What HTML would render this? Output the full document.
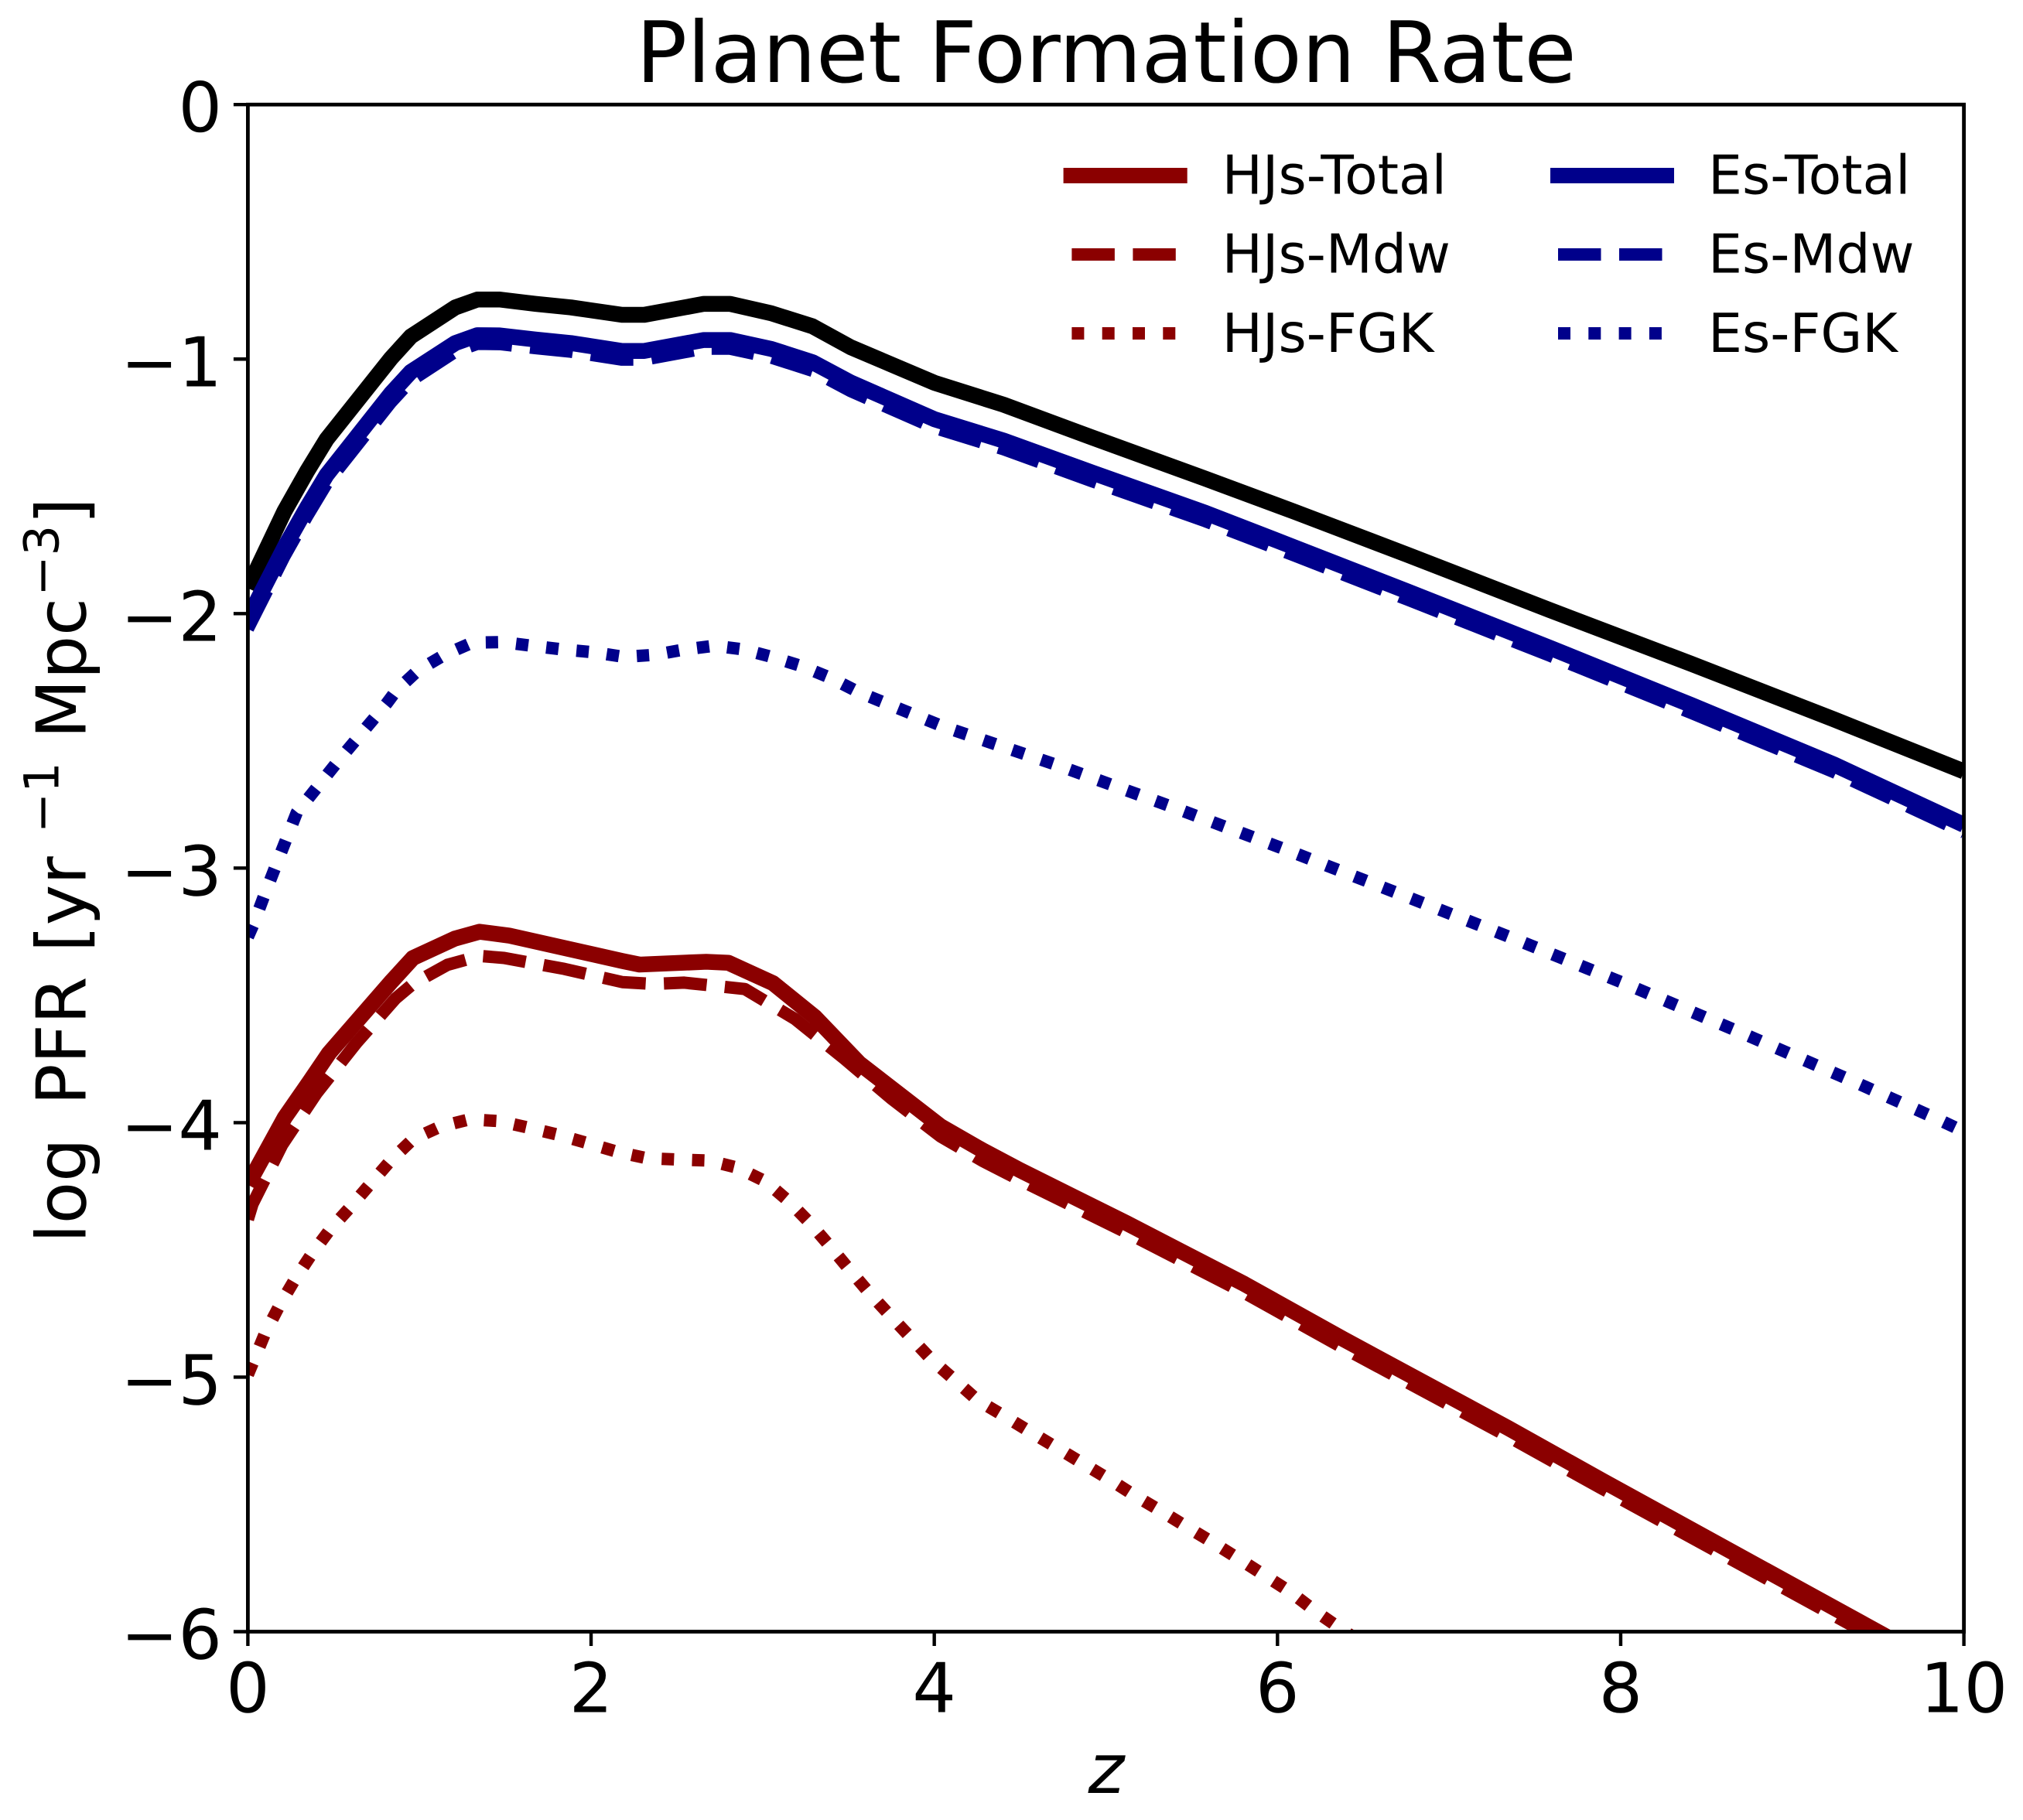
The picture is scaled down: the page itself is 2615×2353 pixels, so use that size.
<!DOCTYPE html>
<html lang="en">
<head>
<meta charset="utf-8">
<title>Planet Formation Rate</title>
<style>
html,body{margin:0;padding:0;background:#fff;}
svg{display:block;}
text{font-family:"DejaVu Sans","Liberation Sans",sans-serif;fill:#000;text-rendering:geometricPrecision;}
</style>
</head>
<body>
<svg id="chart" xmlns="http://www.w3.org/2000/svg" width="2615" height="2353" viewBox="0 0 2615 2353">
  <rect x="0" y="0" width="2615" height="2353" fill="#fff"/>
  <defs><clipPath id="plot-clip"><rect x="320.4" y="135.2" width="2218.2" height="1974.3"/></clipPath></defs>
  <text x="1430" y="106" font-size="109.4" text-anchor="middle">Planet Formation Rate</text>
  <g id="series-layer" clip-path="url(#plot-clip)"></g>
  <g id="axis-layer"></g>
  <g font-size="88.9">
    <text transform="translate(110.7 1607) rotate(-90)">log</text>
    <text transform="translate(110.7 1429) rotate(-90)">PFR</text>
    <text transform="translate(110.7 1231) rotate(-90)">[yr</text>
    <text font-size="62.2" transform="translate(75.7 1077) rotate(-90)">−1</text>
    <text transform="translate(110.7 955) rotate(-90)">Mpc</text>
    <text font-size="62.2" transform="translate(75.7 770.6) rotate(-90)">−3</text>
    <text transform="translate(110.7 678) rotate(-90)">]</text>
  </g>
  <text x="1430" y="2318" font-size="88.9" font-style="italic" text-anchor="middle">z</text>
  <g font-size="69.6">
    <g>
      <line x1="1374.6" x2="1534.7" y1="227" y2="227" stroke="#8b0000" stroke-width="20"/>
      <text x="1579.6" y="250.7">HJs-Total</text>
    </g>
    <g>
      <line x1="1385.4" x2="1519.8" y1="329" y2="329" stroke="#8b0000" stroke-width="16" stroke-dasharray="55.5 23.5"/>
      <text x="1579.6" y="352.7">HJs-Mdw</text>
    </g>
    <g>
      <line x1="1385.4" x2="1519.8" y1="431" y2="431" stroke="#8b0000" stroke-width="16" stroke-dasharray="16 23.3"/>
      <text x="1579.6" y="455">HJs-FGK</text>
    </g>
    <g>
      <line x1="2004" x2="2164" y1="227" y2="227" stroke="#00008b" stroke-width="20"/>
      <text x="2208" y="250.7">Es-Total</text>
    </g>
    <g>
      <line x1="2014" x2="2149" y1="329" y2="329" stroke="#00008b" stroke-width="16" stroke-dasharray="55.5 23.5"/>
      <text x="2208" y="352.7">Es-Mdw</text>
    </g>
    <g>
      <line x1="2014" x2="2149" y1="431" y2="431" stroke="#00008b" stroke-width="16" stroke-dasharray="16 23.3"/>
      <text x="2208" y="455">Es-FGK</text>
    </g>
  </g>
</svg>
<script>
const xTickValues = [0, 2, 4, 6, 8, 10];
const yTickValues = [0, -1, -2, -3, -4, -5, -6];
const xTickLabels = ['0', '2', '4', '6', '8', '10'];
const yTickLabels = ['0', '−1', '−2', '−3', '−4', '−5', '−6'];

const totalZ = [0,0.213,0.343,0.459,0.834,0.95,1.209,1.338,1.468,1.675,1.882,2.18,2.31,2.657,2.81,3.05,3.29,3.513,4.0,4.403,4.92,5.58,6.1,6.758,7.586,8.41,9.24,10];
const allTotal = [-1.9,-1.598,-1.443,-1.315,-0.997,-0.911,-0.797,-0.766,-0.766,-0.783,-0.797,-0.826,-0.826,-0.783,-0.783,-0.82,-0.871,-0.9535,-1.093,-1.179,-1.308,-1.47,-1.6,-1.769,-1.986,-2.197,-2.415,-2.62];
const esTotal = [-2.02,-1.74,-1.585,-1.455,-1.135,-1.05,-0.937,-0.906,-0.907,-0.923,-0.937,-0.968,-0.968,-0.925,-0.925,-0.96,-1.012,-1.092,-1.236,-1.32,-1.446,-1.604,-1.74,-1.913,-2.134,-2.359,-2.592,-2.83];
const esMdw = [-2.06,-1.775,-1.62,-1.49,-1.17,-1.085,-0.971,-0.94,-0.941,-0.957,-0.971,-1.002,-1.002,-0.959,-0.959,-0.994,-1.046,-1.126,-1.27,-1.354,-1.48,-1.637,-1.772,-1.945,-2.165,-2.39,-2.622,-2.86];

const esFgkZ = [0,0.033,0.094,0.172,0.285,0.525,0.81,0.864,0.99,1.143,1.307,1.485,1.661,1.837,2.016,2.192,2.368,2.544,2.72,2.89,3.063,3.234,3.4,3.56,4.049,4.723,5.397,6.063,6.725,7.392,8.047,8.7,9.356,9.84,10];
const esFgk = [-3.27,-3.22,-3.11,-2.975,-2.782,-2.58,-2.352,-2.303,-2.224,-2.163,-2.114,-2.112,-2.127,-2.141,-2.152,-2.17,-2.162,-2.141,-2.126,-2.141,-2.172,-2.208,-2.254,-2.309,-2.443,-2.597,-2.762,-2.931,-3.105,-3.281,-3.46,-3.646,-3.838,-3.984,-4.035];

const hjTotalZ = [0,0.215,0.358,0.473,0.832,0.962,1.206,1.35,1.521,2.183,2.283,2.671,2.8,3.06,3.304,3.563,4.036,4.279,4.497,5.118,5.807,6.382,7.344,7.88,9.55,10];
const hjTotal = [-4.244,-3.98,-3.841,-3.727,-3.449,-3.353,-3.277,-3.25,-3.265,-3.365,-3.379,-3.368,-3.372,-3.452,-3.585,-3.767,-4.014,-4.108,-4.186,-4.394,-4.634,-4.85,-5.2,-5.402,-6.02,-6.19];

const hjMdwZ = [0,0.027,0.2,0.4,0.631,0.861,0.962,1.163,1.35,1.493,1.844,2.183,2.36,2.543,2.896,3.189,3.476,3.749,4.036,4.28,4.5,5.12,5.81,6.38,7.34,7.88,9.55,10];
const hjMdw = [-4.38,-4.32,-4.087,-3.885,-3.688,-3.512,-3.455,-3.38,-3.345,-3.353,-3.396,-3.448,-3.455,-3.45,-3.475,-3.593,-3.749,-3.905,-4.054,-4.15,-4.226,-4.432,-4.67,-4.884,-5.232,-5.434,-6.05,-6.22];

const hjFgkZ = [0,0.033,0.1,0.183,0.272,0.372,0.479,0.597,0.712,0.832,0.962,1.12,1.292,1.465,1.637,1.81,1.982,2.155,2.327,2.508,2.686,2.853,3.017,3.152,3.275,3.39,3.505,3.62,3.741,3.865,3.985,4.12,4.251,4.406,4.557,4.711,4.863,5.014,5.166,5.318,5.469,5.624,5.773,5.923,6.073,6.222,6.371,6.6];
const hjFgk = [-4.99,-4.937,-4.828,-4.72,-4.618,-4.516,-4.42,-4.332,-4.242,-4.149,-4.065,-4.016,-3.987,-3.994,-4.02,-4.048,-4.081,-4.115,-4.14,-4.145,-4.149,-4.177,-4.231,-4.309,-4.394,-4.484,-4.577,-4.668,-4.757,-4.846,-4.932,-5.012,-5.09,-5.152,-5.214,-5.276,-5.338,-5.399,-5.464,-5.525,-5.587,-5.65,-5.713,-5.778,-5.843,-5.92,-5.99,-6.09];

const SVG_NS = 'http://www.w3.org/2000/svg';
const plotLeft = 320.4, plotRight = 2538.6, plotTop = 135.2, plotBottom = 2109.5;
function xScale(z) { return plotLeft + (z / 10) * (plotRight - plotLeft); }
function yScale(v) { return plotTop + (-v / 6) * (plotBottom - plotTop); }

const seriesLayer = document.getElementById('series-layer');
const axisLayer = document.getElementById('axis-layer');

function pointsFor(zs, vs) {
  return zs.map(function (z, i) { return xScale(z).toFixed(2) + ',' + yScale(vs[i]).toFixed(2); }).join(' ');
}
function drawSeries(name, zs, vs, color, width, dash) {
  const el = document.createElementNS(SVG_NS, 'polyline');
  
  
  el.setAttribute('points', pointsFor(zs, vs));
  el.setAttribute('fill', 'none');
  el.setAttribute('stroke', color);
  el.setAttribute('stroke-width', width);
  el.setAttribute('stroke-linejoin', 'round');
  if (dash) el.setAttribute('stroke-dasharray', dash);
  seriesLayer.appendChild(el);
}
drawSeries('line-all-total', totalZ, allTotal, '#000000', 20.5);
drawSeries('line-hjs-total', hjTotalZ, hjTotal, '#8b0000', 20.5);
drawSeries('line-hjs-mdw', hjMdwZ, hjMdw, '#8b0000', 16, '55.5 23.5');
drawSeries('line-hjs-fgk', hjFgkZ, hjFgk, '#8b0000', 16, '16 23.3');
drawSeries('line-es-total', totalZ, esTotal, '#00008b', 20.5);
drawSeries('line-es-mdw', totalZ, esMdw, '#00008b', 16, '55.5 23.5');
drawSeries('line-es-fgk', esFgkZ, esFgk, '#00008b', 16, '16 23.3');

const frame = document.createElementNS(SVG_NS, 'rect');


frame.setAttribute('x', plotLeft);
frame.setAttribute('y', plotTop);
frame.setAttribute('width', plotRight - plotLeft);
frame.setAttribute('height', plotBottom - plotTop);
frame.setAttribute('fill', 'none');
frame.setAttribute('stroke', '#000');
frame.setAttribute('stroke-width', '4.8');
frame.setAttribute('stroke-linejoin', 'miter');
axisLayer.appendChild(frame);

xTickValues.forEach(function (t, i) {
  const tick = document.createElementNS(SVG_NS, 'line');
  
  
  tick.setAttribute('x1', xScale(t));
  tick.setAttribute('x2', xScale(t));
  tick.setAttribute('y1', plotBottom);
  tick.setAttribute('y2', plotBottom + 18.5);
  tick.setAttribute('stroke', '#000');
  tick.setAttribute('stroke-width', '4.4');
  axisLayer.appendChild(tick);
  const label = document.createElementNS(SVG_NS, 'text');
  
  
  label.setAttribute('x', xScale(t));
  label.setAttribute('y', 2213.3);
  label.setAttribute('font-size', '88.9');
  label.setAttribute('text-anchor', 'middle');
  label.textContent = xTickLabels[i];
  axisLayer.appendChild(label);
});

yTickValues.forEach(function (t, i) {
  const tick = document.createElementNS(SVG_NS, 'line');
  
  
  tick.setAttribute('x1', plotLeft - 18.5);
  tick.setAttribute('x2', plotLeft);
  tick.setAttribute('y1', yScale(t));
  tick.setAttribute('y2', yScale(t));
  tick.setAttribute('stroke', '#000');
  tick.setAttribute('stroke-width', '4.4');
  axisLayer.appendChild(tick);
  const label = document.createElementNS(SVG_NS, 'text');
  
  
  label.setAttribute('x', 287);
  label.setAttribute('y', yScale(t) + 35);
  label.setAttribute('font-size', '88.9');
  label.setAttribute('text-anchor', 'end');
  label.textContent = yTickLabels[i];
  axisLayer.appendChild(label);
});
</script>
</body>
</html>
